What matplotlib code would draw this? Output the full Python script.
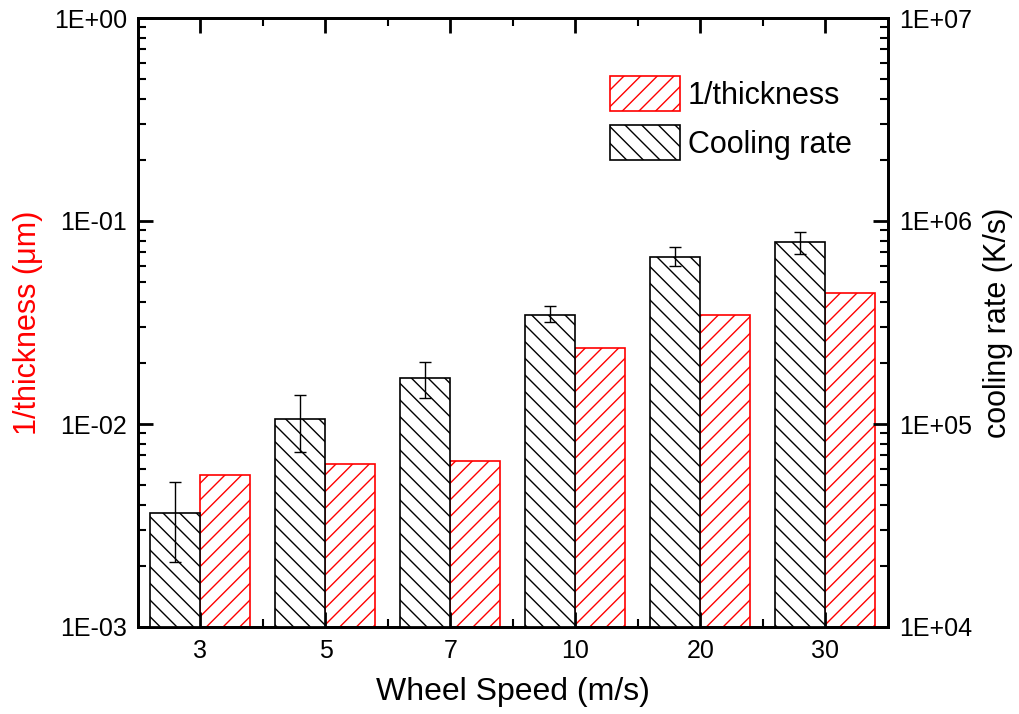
import matplotlib
matplotlib.use("Agg")
import matplotlib.pyplot as plt
import numpy as np
from matplotlib.ticker import LogLocator, FixedLocator, NullFormatter, FuncFormatter

plt.rcParams['font.family'] = ['Liberation Sans', 'DejaVu Sans']
plt.rcParams['hatch.linewidth'] = 1.0

speeds = ['3', '5', '7', '10', '20', '30']
inv_thickness = [5.6e-3, 6.35e-3, 6.6e-3, 2.37e-2, 3.45e-2, 4.42e-2]
cooling_rate = [3.65e4, 1.06e5, 1.69e5, 3.44e5, 6.65e5, 7.9e5]
cooling_err_hi = [5.2e4, 1.39e5, 2.02e5, 3.81e5, 7.45e5, 8.83e5]
cooling_err_lo = [2.1e4, 7.3e4, 1.34e5, 3.18e5, 6.0e5, 6.87e5]

fig = plt.figure(figsize=(10.2, 7.14), dpi=100)
ax = fig.add_axes([138/1020, 1-627/714, 750/1020, 609/714])
ax2 = ax.twinx()

x = np.arange(len(speeds))
w = 0.4

b1 = ax.bar(x + w/2, inv_thickness, width=w, facecolor='white', edgecolor='red',
            hatch='//', linewidth=1.2, label='1/thickness', log=True)
yerr = [np.array(cooling_rate) - np.array(cooling_err_lo),
        np.array(cooling_err_hi) - np.array(cooling_rate)]
b2 = ax2.bar(x - w/2, cooling_rate, width=w, facecolor='white', edgecolor='black',
             hatch='\\\\', linewidth=1.2, label='Cooling rate', log=True)
ax2.errorbar(x - w/2, cooling_rate, yerr=yerr, fmt='none', ecolor='black',
             elinewidth=1.0, capsize=4, capthick=1.0)

ax.set_yscale('log')
ax2.set_yscale('log')
ax.set_ylim(1e-3, 1)
ax2.set_ylim(1e4, 1e7)
ax.set_xlim(-0.5, len(speeds) - 0.5)

fmt = FuncFormatter(lambda v, p: '1E%+03d' % int(round(np.log10(v))))
for a in (ax, ax2):
    a.yaxis.set_major_locator(LogLocator(base=10, numticks=10))
    a.yaxis.set_minor_locator(LogLocator(base=10, subs=np.arange(2, 10), numticks=10))
    a.yaxis.set_major_formatter(fmt)
    a.yaxis.set_minor_formatter(NullFormatter())
    for s in a.spines.values():
        s.set_linewidth(2)

ax.set_xticks(x)
ax.set_xticklabels(speeds)
ax.xaxis.set_minor_locator(FixedLocator(x[:-1] + 0.5))
ax.tick_params(axis='both', which='major', direction='in', length=11, width=2,
               labelsize=18, top=True, pad=9)
ax.tick_params(axis='both', which='minor', direction='in', length=6, width=1.5, top=True)
ax.tick_params(axis='y', which='major', pad=8)
ax2.tick_params(axis='y', which='major', direction='in', length=11, width=2,
                labelsize=18, pad=8)
ax2.tick_params(axis='y', which='minor', direction='in', length=6, width=1.5)

ax.set_xlabel('Wheel Speed (m/s)', fontsize=23, labelpad=10)
ax.set_ylabel('1/thickness (\u03bcm)', fontsize=22, color='red', labelpad=8)
ax2.set_ylabel('cooling rate (K/s)', fontsize=22, labelpad=8)

leg = ax2.legend(handles=[b1, b2], loc='upper right', frameon=False, fontsize=22,
                 handlelength=2.3, handleheight=1.4, handletextpad=0.25,
                 labelspacing=0.45, bbox_to_anchor=(0.98, 0.94), borderaxespad=0.3)

fig.savefig('out.png', dpi=100)
